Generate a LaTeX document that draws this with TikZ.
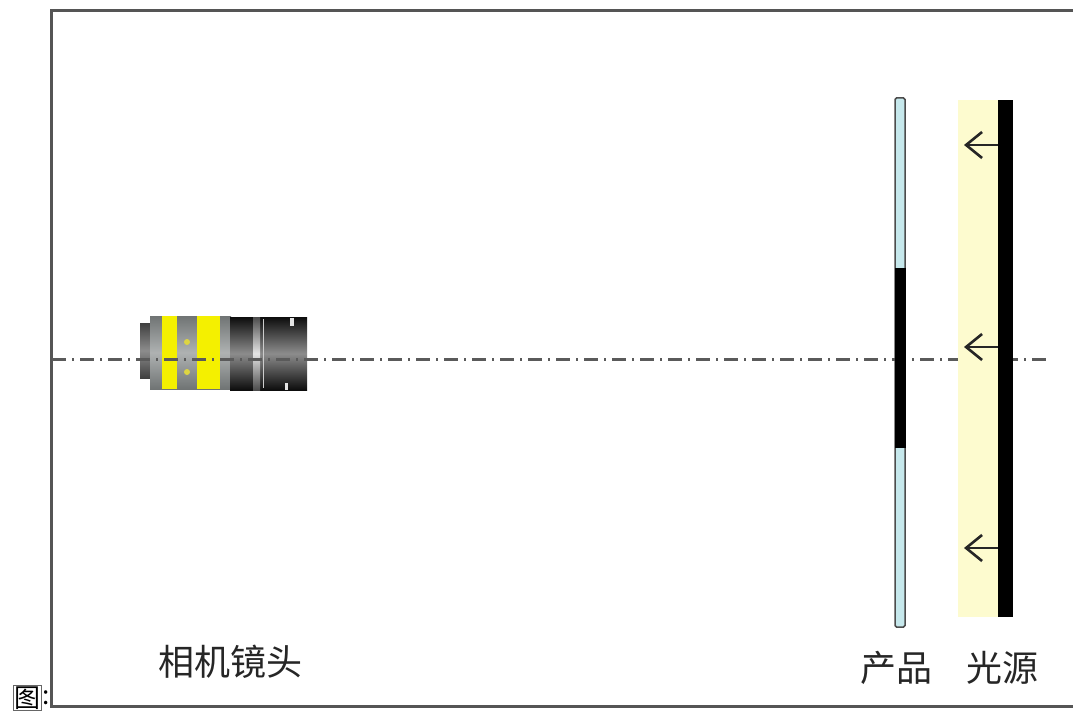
\documentclass[tikz,border=0pt]{standalone}
\usepackage{fontspec}
\newfontfamily\cjk{Noto Sans CJK SC}
\usetikzlibrary{arrows.meta}
\definecolor{framegray}{HTML}{555555}
\definecolor{axisgray}{HTML}{5A5A5A}
\definecolor{glassblue}{HTML}{C6E8EC}
\definecolor{lightyellow}{HTML}{FDFBCF}
\definecolor{bandyellow}{HTML}{F4F000}
\definecolor{bodygray}{HTML}{8C9191}
\tikzset{
  label text/.style={font=\cjk\fontsize{36}{40}\selectfont, text=black!85, inner sep=0pt},
  light ray/.style={line width=2.6pt, draw=black!85, -{Straight Barb[length=16pt,width=26pt,line width=2.6pt]}},
}
\begin{document}
\begin{tikzpicture}[x=1pt,y=-1pt]
\useasboundingbox (0,0) rectangle (1073,711);
\fill[white] (0,0) rectangle (1073,711);

% outer frame, open to the right
\draw[framegray, line width=3pt] (1090,11) -- (51,11) -- (51,706) -- (1090,706);

% camera: rear connector, body with two yellow bands, lens barrel
\shade[top color=black!75, bottom color=black!75, middle color=black!45] (140,323) rectangle (151,378);
\shade[top color=bodygray!80!black, bottom color=bodygray!80!black, middle color=bodygray!70!white] (150,316) rectangle (231,389);
\fill[bandyellow] (162,316) rectangle (177,389);
\fill[bandyellow] (197,316) rectangle (220,389);
\fill[yellow!70!gray] (187,342) circle (3);
\fill[yellow!70!gray] (187,372) circle (3);
\shade[top color=black!95, bottom color=black!95, middle color=black!45] (230,317) rectangle (307,390);
\shade[top color=black!70, bottom color=black!70, middle color=white!90!black] (253,317) rectangle (260,390);
\draw[black!20, line width=0.8pt] (263,319) -- (263,388);
\fill[white!80!gray] (290,318) rectangle (294,326);
\fill[white!80!gray] (285,383) rectangle (288,390);

% optical axis
\draw[axisgray, line width=3pt, dash pattern=on 14pt off 6pt on 2pt off 6pt] (52,359) -- (1050,359);

% product: glass strip with an opaque middle section
\draw[black!70, fill=glassblue, line width=1.5pt, rounded corners=1.5pt] (895,98) rectangle (905,627);
\fill[black] (894.5,268) rectangle (905.5,448);

% backlight: glow and emitting panel
\fill[lightyellow] (958,100) rectangle (998,617);
\fill[black] (998,100) rectangle (1013,617);
\coordinate (s1) at (998,145);
\coordinate (s2) at (998,347);
\coordinate (s3) at (998,548);
\coordinate (t1) at (964,145);
\coordinate (t2) at (964,347);
\coordinate (t3) at (964,548);
\draw[light ray] (s1) -- (t1);
\draw[light ray] (s2) -- (t2);
\draw[light ray] (s3) -- (t3);

% labels
\node[label text] (cam) at (230,662) {相机镜头};
\node[label text] (prod) at (896,668) {产品};
\node[label text] (src) at (1002,668) {光源};
\node[draw=black!60, line width=0.8pt, inner sep=1pt, font=\cjk\fontsize{26}{28}\selectfont, anchor=north west] (fig) at (13,685) {图};
\node[font=\cjk\fontsize{26}{28}\selectfont, inner sep=0pt, anchor=west] (colon) at (fig.east) {:};
\end{tikzpicture}
\end{document}
